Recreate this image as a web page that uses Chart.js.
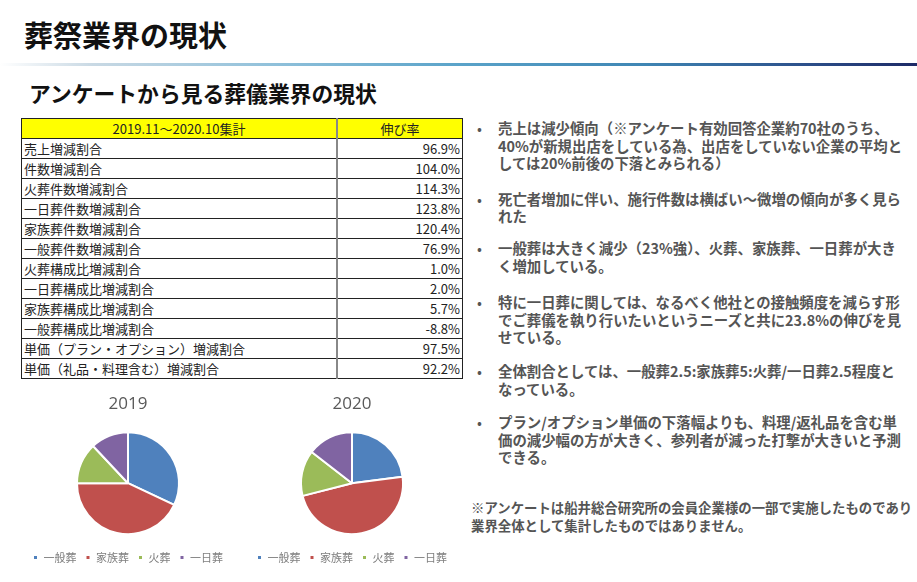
<!DOCTYPE html>
<html lang="ja">
<head>
  <meta charset="UTF-8">
  <title>葬祭業界の現状</title>
  <script src="https://cdn.jsdelivr.net/npm/chart.js"></script>
  <style>
    body {
      margin: 0;
      width: 917px;
      height: 582px;
      background: #fff;
      font-family: "Noto Sans CJK JP", "Noto Sans", sans-serif;
      position: relative;
      overflow: hidden;
    }
    .titulo {
      position: absolute;
      left: 24px;
      top: 14px;
      font-size: 29px;
      font-weight: bold;
      color: #111;
      line-height: 40px;
      margin: 0;
    }
    .linea {
      position: absolute;
      left: 0;
      top: 63px;
      width: 917px;
      height: 3px;
      background: linear-gradient(to right, #ffffff 0%, #c9d9e4 10%, #8fc0da 30%, #5aa3c9 50%, #3f86b4 70%, #2c4f8a 88%, #1d2a66 100%);
    }
    .subtitulo {
      position: absolute;
      left: 29px;
      top: 78px;
      font-size: 21.8px;
      font-weight: bold;
      color: #111;
      line-height: 30px;
      margin: 0;
    }
    table {
      position: absolute;
      left: 21px;
      top: 118px;
      width: 442px;
      border-collapse: collapse;
      font-size: 13px;
      color: #222;
      border: 1px solid #222;
    }
    td, th {
      height: 19px;
      padding: 0 2px;
      border-top: 1px solid #222;
      border-bottom: 1px solid #222;
      line-height: 19px;
      white-space: nowrap;
    }
    th {
      background: #ffff00;
      font-weight: normal;
      text-align: center;
    }
    td.val, th.val {
      text-align: right;
      border-left: 2px solid #888;
    }
    th.val { text-align: center; }
    .texto {
      position: absolute;
      left: 476px;
      top: 119px;
      width: 440px;
      font-size: 14.4px;
      font-weight: bold;
      color: #555;
      line-height: 17.6px;
    }
    .item {
      position: relative;
      padding-left: 22px;
      white-space: nowrap;
    }
    .item::before {
      content: "•";
      position: absolute;
      left: 1px;
      top: 0;
      font-weight: normal;
    }
    .nota {
      position: absolute;
      left: 471px;
      top: 498px;
      font-size: 13.4px;
      font-weight: bold;
      color: #555;
      line-height: 18px;
      white-space: nowrap;
    }
    .pie {
      position: absolute;
      top: 385px;
      width: 216px;
      height: 188px;
    }
  </style>
</head>
<body>
  <h1 class="titulo">葬祭業界の現状</h1>
  <div class="linea"></div>
  <h2 class="subtitulo">アンケートから見る葬儀業界の現状</h2>

  <table id="tabla"></table>

  <div class="texto">
    <div class="item" style="margin-bottom:18px">売上は減少傾向（※アンケート有効回答企業約70社のうち、<br>40%が新規出店をしている為、出店をしていない企業の平均と<br>しては20%前後の下落とみられる）</div>
    <div class="item" style="margin-bottom:14.5px">死亡者増加に伴い、施行件数は横ばい～微増の傾向が多く見ら<br>れた</div>
    <div class="item" style="margin-bottom:18.5px">一般葬は大きく減少（23%強）、火葬、家族葬、一日葬が大き<br>く増加している。</div>
    <div class="item" style="margin-bottom:16.5px">特に一日葬に関しては、なるべく他社との接触頻度を減らす形<br>でご葬儀を執り行いたいというニーズと共に23.8%の伸びを見<br>せている。</div>
    <div class="item" style="margin-bottom:15.5px">全体割合としては、一般葬2.5:家族葬5:火葬/一日葬2.5程度と<br>なっている。</div>
    <div class="item">プラン/オプション単価の下落幅よりも、料理/返礼品を含む単<br>価の減少幅の方が大きく、参列者が減った打撃が大きいと予測<br>できる。</div>
  </div>
  <div class="nota">※アンケートは船井総合研究所の会員企業様の一部で実施したものであり<br>業界全体として集計したものではありません。</div>

  <div class="pie" style="left:20px"><canvas id="pie2019"></canvas></div>
  <div class="pie" style="left:244px"><canvas id="pie2020"></canvas></div>

  <script>
    // tabla
    const encabezado = ['2019.11～2020.10集計', '伸び率'];
    const conceptos = [
      '売上増減割合', '件数増減割合', '火葬件数増減割合', '一日葬件数増減割合',
      '家族葬件数増減割合', '一般葬件数増減割合', '火葬構成比増減割合', '一日葬構成比増減割合',
      '家族葬構成比増減割合', '一般葬構成比増減割合', '単価（プラン・オプション）増減割合', '単価（礼品・料理含む）増減割合'
    ];
    const tasas = [96.9, 104.0, 114.3, 123.8, 120.4, 76.9, 1.0, 2.0, 5.7, -8.8, 97.5, 92.2];

    // pies
    const tipos = ['一般葬', '家族葬', '火葬', '一日葬'];
    const reparto2019 = [32, 43, 13, 12];
    const reparto2020 = [23, 48, 14.5, 14.5];
    const colores = ['#4f81bd', '#c0504d', '#9bbb59', '#8064a2'];

    const tabla = document.getElementById('tabla');
    let html = `<tr><th style="width:310px">${encabezado[0]}</th><th class="val">${encabezado[1]}</th></tr>`;
    conceptos.forEach((c, i) => {
      html += `<tr><td>${c}</td><td class="val">${tasas[i].toFixed(1)}%</td></tr>`;
    });
    tabla.innerHTML = html;

    const crearPie = (id, anio, datos) => {
      new Chart(document.getElementById(id), {
        type: 'pie',
        data: {
          labels: tipos,
          datasets: [{ data: datos, backgroundColor: colores, borderColor: '#fff', borderWidth: 2, radius: 51 }]
        },
        options: {
          responsive: true,
          maintainAspectRatio: false,
          animation: false,
          plugins: {
            title: {
              display: true,
              text: anio,
              color: '#595959',
              font: { family: 'Open Sans', size: 17, weight: 'normal' },
              padding: { top: 9, bottom: 9 }
            },
            legend: {
              position: 'bottom',
              labels: {
                boxWidth: 5,
                boxHeight: 5,
                padding: 9,
                color: '#7f7f7f',
                font: { family: 'Noto Sans CJK JP', size: 11 }
              }
            },
            tooltip: { enabled: false }
          }
        }
      });
    };

    crearPie('pie2019', '2019', reparto2019);
    crearPie('pie2020', '2020', reparto2020);
  </script>
</body>
</html>
